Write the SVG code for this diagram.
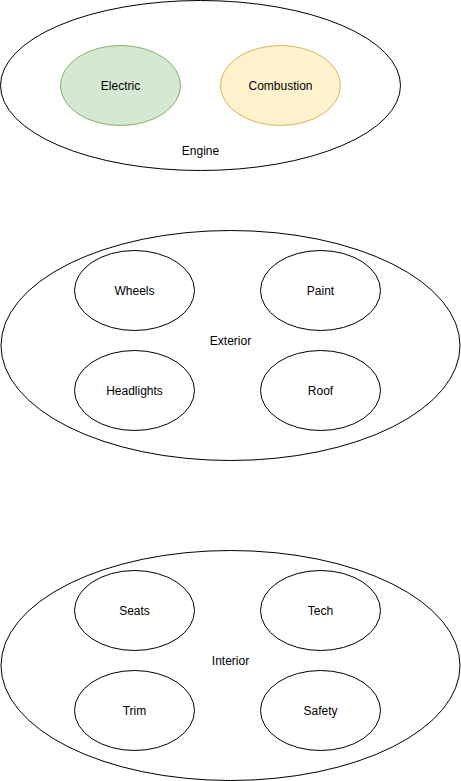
<svg xmlns="http://www.w3.org/2000/svg" width="461" height="781" viewBox="0 0 461 781">
<style>
.o{fill:#ffffff;stroke:#000000;stroke-width:1}
.g{fill:#d5e8d4;stroke:#82b366;stroke-width:1}
.y{fill:#fff2cc;stroke:#d6b656;stroke-width:1}
text{font-family:"Liberation Sans",Arial,Helvetica,sans-serif;font-size:12px;fill:#000000;text-anchor:middle;dominant-baseline:central}
</style>
<rect width="461" height="781" fill="#ffffff"/>
<g id="engine"><ellipse class="o" cx="200.5" cy="85.5" rx="200" ry="85"/><text x="200.5" y="151">Engine</text></g>
<g id="electric"><ellipse class="g" cx="120.5" cy="85.5" rx="60" ry="40"/><text x="120.5" y="85.5">Electric</text></g>
<g id="combustion"><ellipse class="y" cx="280.5" cy="85.5" rx="60" ry="40"/><text x="280.5" y="85.5">Combustion</text></g>

<g id="exterior"><ellipse class="o" cx="230.5" cy="345.5" rx="229.5" ry="115"/><text x="230.5" y="341">Exterior</text></g>
<g id="wheels"><ellipse class="o" cx="134.5" cy="290.5" rx="60" ry="40"/><text x="134.5" y="290.5">Wheels</text></g>
<g id="paint"><ellipse class="o" cx="320.5" cy="290.5" rx="60" ry="40"/><text x="320.5" y="290.5">Paint</text></g>
<g id="headlights"><ellipse class="o" cx="134.5" cy="390.5" rx="60" ry="40"/><text x="134.5" y="390.5">Headlights</text></g>
<g id="roof"><ellipse class="o" cx="320.5" cy="390.5" rx="60" ry="40"/><text x="320.5" y="390.5">Roof</text></g>

<g id="interior"><ellipse class="o" cx="230.5" cy="665.5" rx="229.5" ry="115"/><text x="230.5" y="661">Interior</text></g>
<g id="seats"><ellipse class="o" cx="134.5" cy="610.5" rx="60" ry="40"/><text x="134.5" y="610.5">Seats</text></g>
<g id="tech"><ellipse class="o" cx="320.5" cy="610.5" rx="60" ry="40"/><text x="320.5" y="610.5">Tech</text></g>
<g id="trim"><ellipse class="o" cx="134.5" cy="710.5" rx="60" ry="40"/><text x="134.5" y="710.5">Trim</text></g>
<g id="safety"><ellipse class="o" cx="320.5" cy="710.5" rx="60" ry="40"/><text x="320.5" y="710.5">Safety</text></g>
<g id="connectors"/>
</svg>
